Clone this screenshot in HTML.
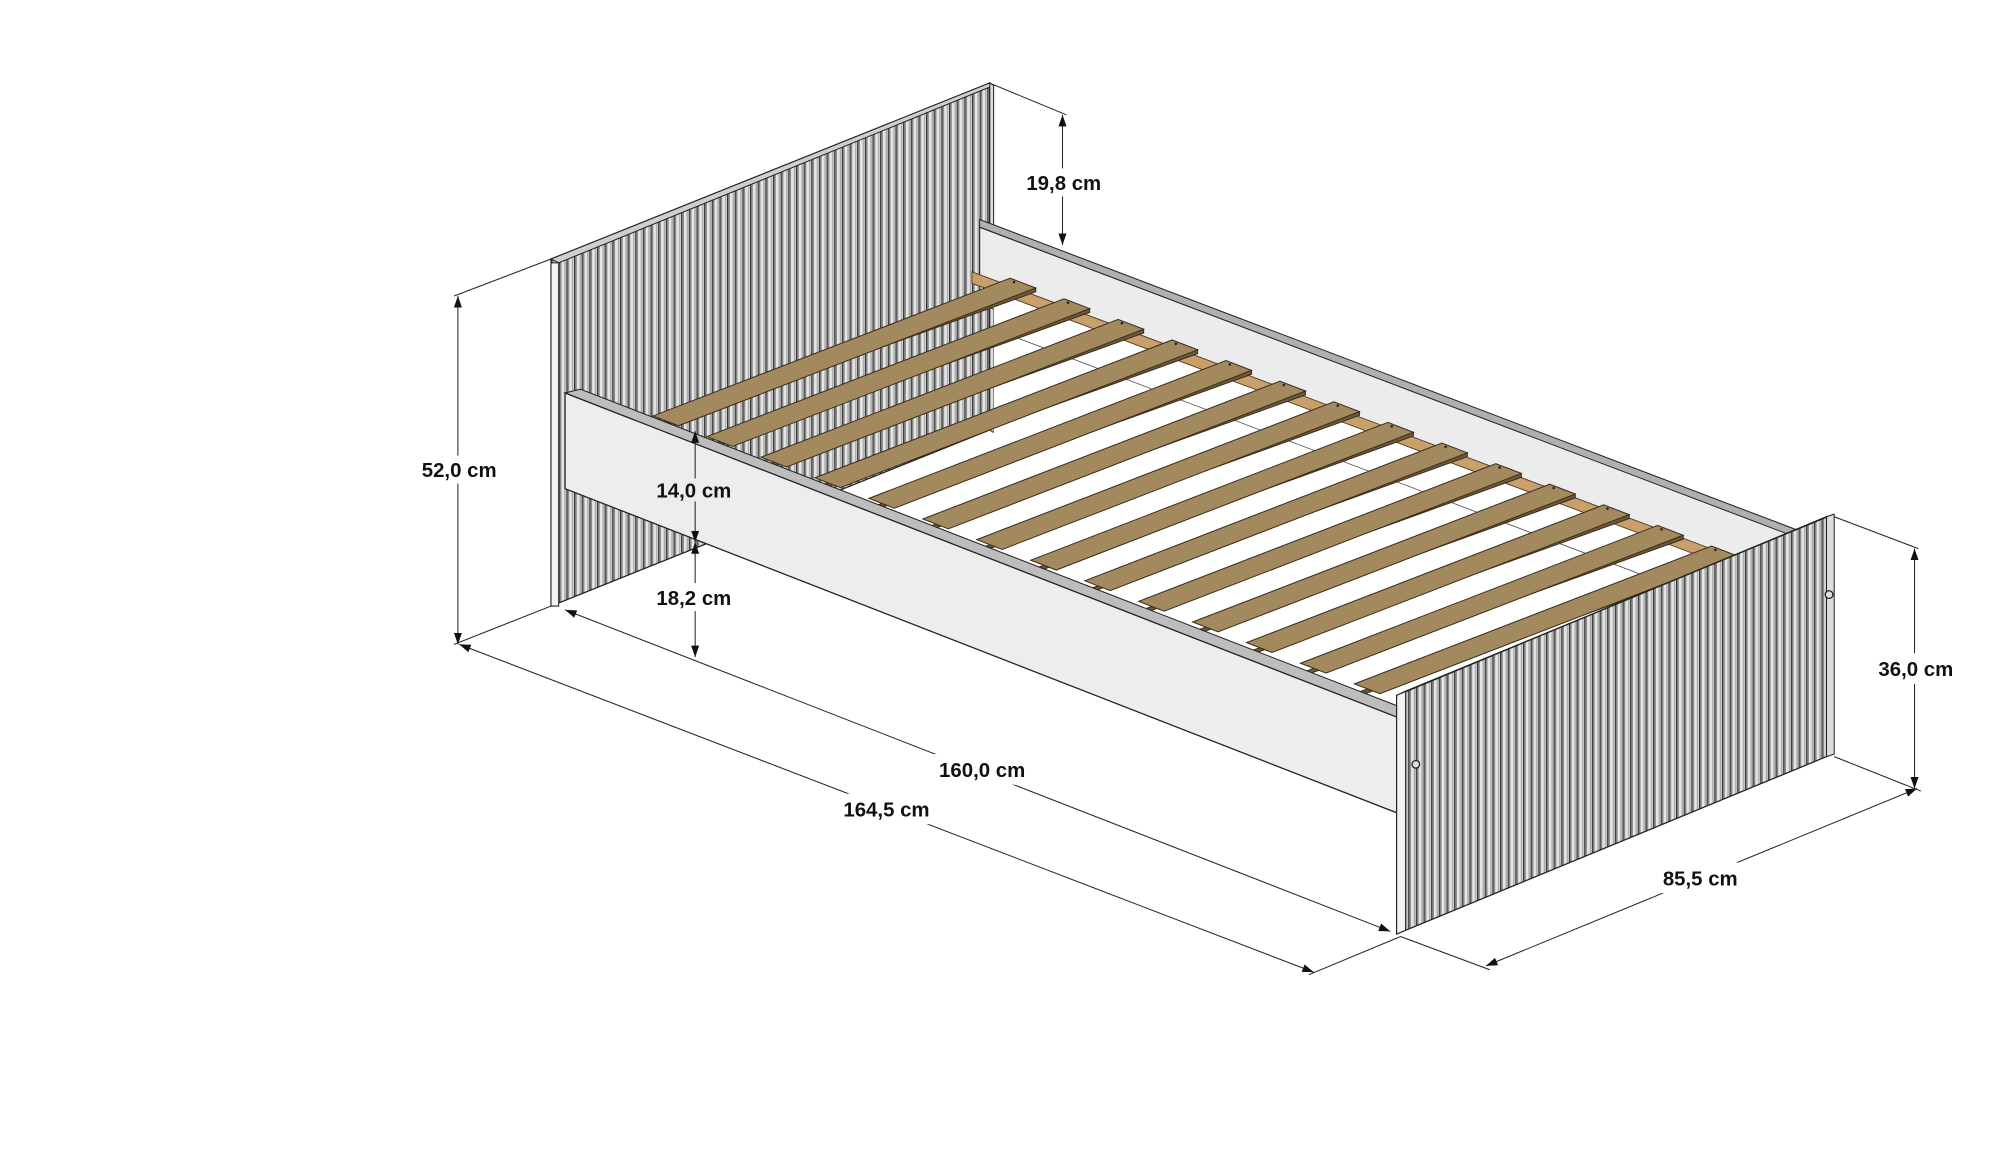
<!DOCTYPE html>
<html><head><meta charset="utf-8"><style>
html,body{margin:0;padding:0;background:#fff;}
svg{display:block;}
text{font-family:"Liberation Sans",sans-serif;font-weight:bold;font-size:16px;fill:#111;}
</style></head><body>
<svg width="2000" height="1156" viewBox="0 0 1568 906" preserveAspectRatio="none" xmlns="http://www.w3.org/2000/svg">
<defs>
<pattern id="rib" width="6" height="20" patternUnits="userSpaceOnUse">
<rect width="6" height="20" fill="#e6e6e6"/>
<rect x="0" width="1" height="20" fill="#333"/>
<rect x="1" width="1.2" height="20" fill="#888"/>
<rect x="4.3" width="1.2" height="20" fill="#aaa"/>
</pattern>
<marker id="ar" viewBox="0 0 10 10" refX="10" refY="5" markerWidth="9" markerHeight="9" orient="auto-start-reverse" markerUnits="userSpaceOnUse">
<path d="M0,1.5 L10,5 L0,8.5 z" fill="#111"/>
</marker>
</defs>

<polygon points="432,203 776,65 776,337 432,475" fill="url(#rib)" stroke="#222" stroke-width="1"/>
<polygon points="432,203 776,65 779,67 438,206" fill="#cfcfcf" stroke="#222" stroke-width="0.8"/>
<polygon points="776,65 779,67 779,339 776,337" fill="#ddd" stroke="#222" stroke-width="0.8"/>
<polygon points="432,206 438,206 438,475 432,475" fill="#f2f2f2" stroke="#222" stroke-width="0.8"/>

<polygon points="768,178 1408,420 1408,480 768,238" fill="#ececec" stroke="#333" stroke-width="1"/>
<polygon points="768,172 1408,415 1408,421 768,178" fill="#b0b0b0" stroke="#222" stroke-width="0.8"/>

<polygon points="779,226 1380,452 1095,580 779,460" fill="#fff"/>
<g stroke="#444" stroke-width="0.6" fill="none">
<line x1="790" y1="262" x2="1360" y2="478"/>
</g>

<polygon points="762,213 1352,434 1352,443 762,222" fill="#c9a06a" stroke="#4a3a26" stroke-width="0.7"/>

<g stroke="#3b2e1e" stroke-width="0.8">
<g id="slats"></g>
</g>

<polygon points="443,308 455,305 1095,553 1095,562" fill="#bdbdbd" stroke="#222" stroke-width="0.8"/>
<polygon points="443,308 1095,562 1095,637 443,383" fill="#ededed" stroke="#222" stroke-width="1"/>

<polygon points="1095,545 1432,405 1432,593 1095,732" fill="url(#rib)" stroke="#222" stroke-width="1"/>
<polygon points="1095,545 1432,405 1438,403 1101,542" fill="#d0d0d0" stroke="#222" stroke-width="0.8"/>
<polygon points="1432,405 1438,403 1438,591 1432,593" fill="#ddd" stroke="#222" stroke-width="0.8"/>
<polygon points="1095,545 1102,542 1102,729 1095,732" fill="#f2f2f2" stroke="#222" stroke-width="0.8"/>
<circle cx="1110" cy="599" r="3" fill="#ddd" stroke="#222"/>
<circle cx="1434" cy="466" r="3" fill="#ddd" stroke="#222"/>

<g stroke="#222" stroke-width="0.8" fill="none">
<line x1="778" y1="66" x2="836" y2="90"/>
<line x1="833" y1="90" x2="833" y2="192" marker-start="url(#ar)" marker-end="url(#ar)"/>
<line x1="432" y1="203" x2="356" y2="232"/>
<line x1="432" y1="475" x2="356" y2="505"/>
<line x1="359" y1="232" x2="359" y2="505" marker-start="url(#ar)" marker-end="url(#ar)"/>
<line x1="545" y1="338" x2="545" y2="425" marker-start="url(#ar)" marker-end="url(#ar)"/>
<line x1="545" y1="425" x2="545" y2="515" marker-start="url(#ar)" marker-end="url(#ar)"/>
<line x1="443" y1="478" x2="1090" y2="730" marker-start="url(#ar)" marker-end="url(#ar)"/>
<line x1="360" y1="505" x2="1030" y2="762" marker-start="url(#ar)" marker-end="url(#ar)"/>
<line x1="1098" y1="734" x2="1026" y2="764"/>
<line x1="1098" y1="734" x2="1168" y2="760"/>
<line x1="1438" y1="593" x2="1506" y2="620"/>
<line x1="1165" y1="757" x2="1503" y2="618" marker-start="url(#ar)" marker-end="url(#ar)"/>
<line x1="1438" y1="405" x2="1504" y2="430"/>
<line x1="1501" y1="430" x2="1501" y2="618" marker-start="url(#ar)" marker-end="url(#ar)"/>
</g>

<g>
<rect x="796" y="132" width="76" height="22" fill="#fff"/>
<text x="834" y="149" text-anchor="middle">19,8 cm</text>
<rect x="322" y="357" width="76" height="22" fill="#fff"/>
<text x="360" y="374" text-anchor="middle">52,0 cm</text>
<rect x="509" y="375" width="72" height="18" fill="#ededed"/>
<text x="544" y="390" text-anchor="middle">14,0 cm</text>
<rect x="507" y="457" width="76" height="22" fill="#fff"/>
<text x="544" y="474" text-anchor="middle">18,2 cm</text>
<rect x="726" y="591" width="88" height="24" fill="#fff"/>
<text x="770" y="609" text-anchor="middle">160,0 cm</text>
<rect x="651" y="622" width="88" height="24" fill="#fff"/>
<text x="695" y="640" text-anchor="middle">164,5 cm</text>
<rect x="1293" y="676" width="80" height="24" fill="#fff"/>
<text x="1333" y="694" text-anchor="middle">85,5 cm</text>
<rect x="1464" y="512" width="76" height="24" fill="#fff"/>
<text x="1502" y="530" text-anchor="middle">36,0 cm</text>
</g>
</svg>
<script>
(function(){
var g=document.getElementById('slats');var h='';
for(var i=0;i<14;i++){
var bx=792+42.3*i,by=218+16.15*i;var ax=bx-280,ay=by+108;var wx=20,wy=7.7;
h+='<polygon points="'+ax+','+(ay+wy)+' '+(bx+wx)+','+(by+wy)+' '+(bx+wx)+','+(by+wy+3)+' '+ax+','+(ay+wy+3)+'" fill="#6e5838"/>';
h+='<polygon points="'+ax+','+ay+' '+bx+','+by+' '+(bx+wx)+','+(by+wy)+' '+(ax+wx)+','+(ay+wy)+'" fill="#a3895e"/>';
h+='<circle cx="'+(bx+3)+'" cy="'+(by+3)+'" r="1" fill="#222" stroke="none"/>';
}
g.innerHTML=h;
})();
</script>
</body></html>
